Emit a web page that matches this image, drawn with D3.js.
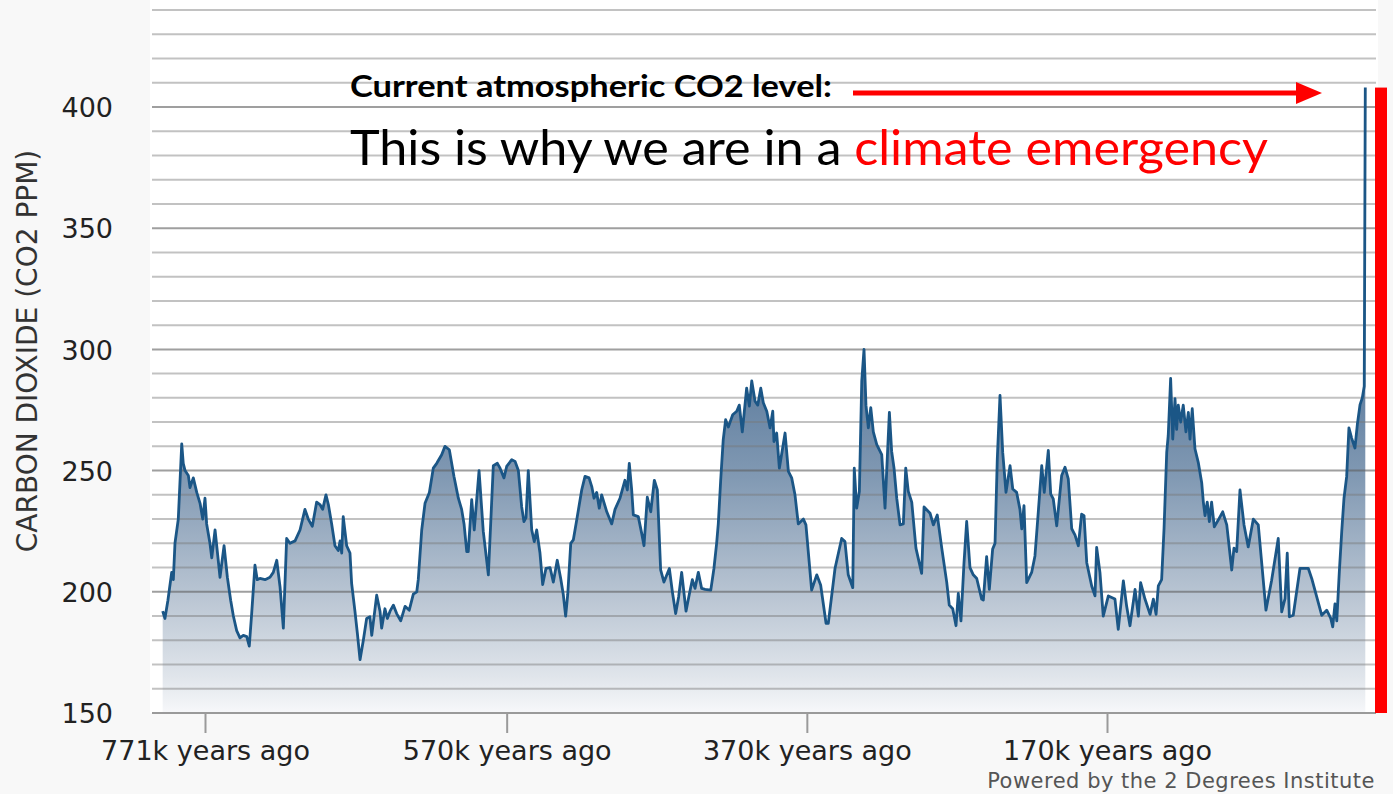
<!DOCTYPE html>
<html>
<head>
<meta charset="utf-8">
<script src="https://cdn.jsdelivr.net/npm/d3@7"></script>
<style>
  body { margin: 0; background: #f8f8f8; }
  svg { display: block; }
</style>
</head>
<body>
<div id="chart"></div>
<script>
// ice core CO2 record
// x: thousands of years ago, y: ppm
const kyrAgo = [
  799.2, 797.7, 795.7, 793.2, 792.1, 791, 788.8, 786.5, 785.5, 784.3, 782.1, 781, 778.8, 776.5, 774.3, 772.5,
  771, 769.9, 767.7, 766.5, 764.3, 761, 758.3, 756.1, 753.9, 752.1, 749.9, 747.7, 745.5, 743.2, 741.5, 739.9,
  737.7, 736.2, 734.4, 731, 727.7, 725.5, 723.2, 721, 718.8, 716.6, 714.4, 711, 707.7, 704.4, 702.2, 699.5,
  696.6, 694.4, 692.6, 690.4, 688.8, 686.6, 684.4, 682.2, 681, 679.9, 678.9, 676.6, 674.4, 673.3, 671.1, 669.5,
  667.7, 665.5, 663.3, 661.1, 659.9, 656.6, 654.4, 653.3, 651.1, 649.5, 647.7, 645.5, 643.3, 640.6, 637.7, 634.9,
  632.2, 629.9, 628.9, 626.6, 624.4, 621.5, 618.9, 616.6, 613.3, 611.1, 608.2, 605.1, 602.2, 600, 598.4, 596.6,
  595.6, 593.3, 591.6, 588.4, 585.6, 582.2, 578.9, 576.2, 574.4, 571.8, 570, 566.6, 564.4, 562.2, 560, 558.5,
  557.1, 555.6, 553.3, 551.6, 550, 547.8, 546, 543.8, 541.1, 538.9, 536.3, 534, 532.3, 530.7, 529.3, 527.3,
  525.6, 523.3, 520, 517.8, 515.1, 513.3, 511.8, 510, 508.3, 506.7, 503.3, 500, 497.8, 494.5, 491.2, 489.6,
  488.3, 486.7, 485.6, 482.3, 480, 478.5, 476.3, 474, 471.6, 469.6, 467.4, 465.2, 461.6, 459.6, 457.4, 455.4,
  453.4, 450.5, 448.3, 446.3, 444.5, 442.3, 440.1, 437.8, 434, 431.9, 430.1, 429, 427.4, 425.7, 424.1, 422.3,
  419.4, 416.7, 415, 413, 410.1, 408.3, 406.7, 404.5, 402.7, 400.7, 399, 396.7, 394.5, 392.7, 391.9, 390.1,
  388.3, 384.5, 382.3, 380.1, 377.9, 375.7, 372.3, 370.6, 366.8, 363.4, 360.8, 357.2, 355.7, 351.2, 346.8, 344.6,
  342.4, 339.4, 338.4, 336.8, 335, 333.4, 331.9, 330.6, 329, 327.4, 325.7, 323.4, 320.1, 317.9, 316.8, 315,
  313.5, 311.9, 310.1, 307.9, 305.7, 304.1, 302.4, 300.1, 297.3, 293.5, 291.9, 287.9, 285.7, 283.1, 280.1, 276.8,
  275.1, 272.8, 270.6, 269.1, 267.3, 265.3, 263.5, 261.3, 259.1, 256.8, 253.5, 252.4, 250.2, 248.4, 246.2, 244.6,
  243.1, 241.3, 239.5, 237.3, 234.6, 232.8, 230.2, 228, 226.8, 225.3, 223.5, 220.2, 218, 215.8, 213.5, 211.8,
  209.1, 207.5, 205.8, 203.5, 200.2, 198, 195.8, 193.5, 191.3, 189.1, 186.9, 185.3, 183.5, 180.2, 178, 176.9,
  174.7, 172.5, 169.1, 164.7, 162.5, 159.1, 156.9, 154.7, 151.3, 149.1, 147.6, 144.7, 141.3, 139.1, 137.3, 135.8,
  133.6, 132, 130.2, 129.2, 127.6, 126.2, 124.7, 123.6, 122.5, 120.9, 119.2, 117.4, 115.8, 114.7, 113.2, 111.4,
  109.2, 106.9, 105.8, 104.7, 103.2, 101.8, 100.3, 98.5, 95.8, 92.9, 90.2, 86.9, 85.4, 83.6, 81.4, 78.7,
  75.9, 72.5, 69.2, 64.1, 60.3, 55.9, 53.6, 51.4, 49.9, 48.5, 45.9, 41.4, 35.9, 33.6, 26.9, 23.6,
  20.9, 19.6, 18.1, 16.9, 15.2, 13.6, 12.1, 10.3, 8.8, 7, 4.8, 3.2, 1.4, -0.1, -1.4, -2.1
];
const co2ppm = [
  192, 189, 196.5, 208, 205, 220, 230, 261, 253, 250, 248, 243, 247, 241, 236.5, 230,
  238.6, 228, 220, 214, 225.5, 206, 219, 206, 196.5, 190, 184, 181, 182, 181.5, 177.6, 191,
  211, 205, 205.5, 205, 206, 208, 213, 202, 185, 222, 220, 221, 225.5, 234, 230, 227,
  237, 236, 234, 240, 236, 228, 219, 217, 221, 216, 231, 219, 216, 203.5, 192, 183,
  172, 180, 189, 189.7, 182, 198.6, 192, 185, 193, 189, 192, 194.5, 191, 188, 194, 192.4,
  199, 200, 205, 225.5, 236.5, 241, 251, 253, 256.5, 260, 258.6, 247.6, 238.6, 234, 228, 216.6,
  216.6, 238, 225.5, 250, 225, 207, 252, 253, 251, 247, 251.7, 254.5, 253.8, 250, 235, 229,
  230.6, 250, 225.5, 220.7, 225.5, 216, 203, 209.7, 210, 204, 213, 205.5, 199, 190, 199, 220,
  221.4, 229.7, 242, 247.6, 247, 243.4, 238.6, 241, 234.5, 240, 233, 228, 234, 238.6, 246, 242,
  253, 242, 231.7, 231, 224, 219, 239, 233, 246, 242, 209, 204, 209.6, 200, 191, 198,
  208, 192, 199, 205, 201.4, 208, 201.4, 201, 200.7, 209.6, 220, 228, 246, 262.8, 271, 268,
  273, 274.5, 277, 266, 284, 276.6, 287, 278.6, 277, 284, 278, 274.5, 267.6, 274.5, 262, 265.5,
  251, 265.5, 249.7, 247, 240, 228, 230, 227.6, 200.7, 207, 202.8, 187, 187, 209.7, 222, 220.7,
  207, 201.7, 251, 234.5, 241.4, 287, 300, 277, 267.6, 276, 266, 260.7, 256.6, 234.5, 249.7, 274,
  258, 251, 238.6, 227.6, 228, 251, 241.4, 237, 218, 207.6, 235, 232.4, 227.6, 231.7, 218, 204,
  194.5, 193, 186, 199.3, 188, 211.7, 229, 210, 207, 205.5, 197, 196.6, 214.5, 201, 217.6, 220,
  254.8, 281, 257.6, 241, 252, 242.4, 241, 234, 226, 235.5, 203.8, 208, 214.8, 232.8, 252, 241,
  258.3, 240.3, 238.3, 227.2, 248, 251.4, 246.6, 226, 223.4, 219, 232, 231.4, 212, 202.4, 198.3, 218.3,
  208, 190, 198.3, 197, 184.5, 204.5, 194, 186, 201, 190, 203.8, 197, 190.7, 197, 190.7, 202.4,
  205, 226, 257.6, 264.5, 288, 263, 279.7, 267, 277, 270, 277, 266, 274, 263, 275.5, 259,
  253.4, 245, 237, 231.4, 237, 229, 237, 226.8, 229.7, 233, 227.6, 209, 218, 216.6, 242, 227.6,
  218.5, 230, 227.6, 192.4, 204.8, 222, 191.7, 197.2, 215.9, 189.7, 190.3, 209.7, 209.7, 205.5, 190.3, 192.4,
  189, 185.5, 195, 188, 208.3, 224.8, 238.6, 247.6, 267.6, 263.4, 259.3, 269, 277.2, 280, 284.8, 408
];
const currentCO2 = 408;

const xTicks = [771, 570, 370, 170];
const yTicks = [150, 200, 250, 300, 350, 400];
const gridValues = d3.range(160, 441, 10);

const yTitle = 'CARBON DIOXIDE (CO2 PPM)';
const headline = 'Current atmospheric CO2 level:';
const subline = 'This is why we are in a ';
const sublineRed = 'climate emergency';
const credit = 'Powered by the 2 Degrees Institute';

const pageWidth = 1393;
const pageHeight = 794;
const plotLeft = 152;
const plotRight = 1376;
const axisFont = '"DejaVu Sans", sans-serif';
const titleFont = 'Lato, "Open Sans", sans-serif';

const data = kyrAgo.map((k, i) => ({ k: k, v: co2ppm[i] }));

const svg = d3.select('#chart')
    .append('svg')
    .attr('width', pageWidth)
    .attr('height', pageHeight);

const x = d3.scaleLinear()
    .domain([771, 170])
    .range([205, 1107]);

const y = d3.scaleLinear()
    .domain([150, 440])
    .range([713, 10]);

// white plot background
svg.append('rect')
    .attr('x', plotLeft - 2)
    .attr('y', 0)
    .attr('width', plotRight - plotLeft + 4)
    .attr('height', y(150))
    .attr('fill', '#ffffff');

const defs = svg.append('defs');
const grad = defs.append('linearGradient')
    .attr('id', 'fillGrad')
    .attr('gradientUnits', 'userSpaceOnUse')
    .attr('x1', 0).attr('x2', 0)
    .attr('y1', y(300)).attr('y2', y(150));
[
    [0, '#56779a'],
    [0.35, '#8199b3'],
    [0.7, '#bdc8d5'],
    [0.9, '#e0e5eb'],
    [1, '#f7f8fa']
].forEach(s => grad.append('stop').attr('offset', s[0]).attr('stop-color', s[1]));

// area under the curve
const area = d3.area()
    .x(d => x(d.k))
    .y0(y(150))
    .y1(d => y(d.v));

svg.append('path')
    .datum(data)
    .attr('d', area)
    .attr('fill', 'url(#fillGrad)');

// horizontal grid, drawn over the fill
svg.append('g')
    .selectAll('line')
    .data(gridValues)
    .enter().append('line')
    .attr('x1', plotLeft)
    .attr('x2', plotRight)
    .attr('y1', d => y(d))
    .attr('y2', d => y(d))
    .attr('stroke', d => d % 50 === 0 ? 'rgba(95,95,95,0.6)' : 'rgba(120,120,120,0.45)')
    .attr('stroke-width', 2);

// CO2 line
const line = d3.line()
    .x(d => x(d.k))
    .y(d => y(d.v));

svg.append('path')
    .datum(data)
    .attr('d', line)
    .attr('fill', 'none')
    .attr('stroke', '#1b5686')
    .attr('stroke-width', 2.8)
    .attr('stroke-linejoin', 'round');

// x axis
const xAxis = g => g
    .attr('transform', 'translate(0,' + y(150) + ')')
    .call(d3.axisBottom(x)
        .tickValues(xTicks)
        .tickSize(20)
        .tickSizeOuter(0)
        .tickPadding(8)
        .tickFormat(d => d + 'k years ago'));

const gx = svg.append('g').call(xAxis);
gx.select('.domain')
    .attr('d', 'M' + plotLeft + ',0H' + plotRight)
    .attr('stroke', '#9a9a9a')
    .attr('stroke-width', 2);
gx.selectAll('.tick line')
    .attr('stroke', '#9a9a9a')
    .attr('stroke-width', 2);
gx.selectAll('.tick text')
    .attr('font-family', axisFont)
    .attr('font-size', 27)
    .attr('fill', '#222');

// y axis labels
const gy = svg.append('g')
    .attr('transform', 'translate(113,0)')
    .call(d3.axisLeft(y).tickValues(yTicks).tickSize(0).tickPadding(0));
gy.select('.domain').remove();
gy.selectAll('.tick text')
    .attr('font-family', axisFont)
    .attr('font-size', 27)
    .attr('fill', '#222')
    .attr('dy', '0.36em');

svg.append('text')
    .attr('transform', 'translate(37,' + 351 + ') rotate(-90)')
    .attr('text-anchor', 'middle')
    .attr('font-family', axisFont)
    .attr('font-size', 28)
    .attr('fill', '#333')
    .text(yTitle);

// current level marker bar
svg.append('rect')
    .attr('x', 1375)
    .attr('y', y(currentCO2))
    .attr('width', 12)
    .attr('height', y(150) - y(currentCO2))
    .attr('fill', '#ff0000');

// annotation
svg.append('text')
    .attr('x', 350)
    .attr('y', 97)
    .attr('font-family', titleFont)
    .attr('font-weight', 'bold')
    .attr('font-size', 30)
    .attr('textLength', 482)
    .attr('lengthAdjust', 'spacingAndGlyphs')
    .attr('fill', '#000')
    .text(headline);

svg.append('line')
    .attr('x1', 853)
    .attr('x2', 1300)
    .attr('y1', 93)
    .attr('y2', 93)
    .attr('stroke', '#ff0000')
    .attr('stroke-width', 5);

svg.append('path')
    .attr('d', 'M1296,82L1322,93L1296,104Z')
    .attr('fill', '#ff0000');

const sub = svg.append('text')
    .attr('x', 350)
    .attr('y', 165)
    .attr('font-family', titleFont)
    .attr('font-size', 49)
    .attr('textLength', 918)
    .attr('lengthAdjust', 'spacingAndGlyphs')
    .attr('fill', '#000');
sub.append('tspan').text(subline);
sub.append('tspan').attr('fill', '#ff0000').text(sublineRed);

svg.append('text')
    .attr('x', 1375)
    .attr('y', 788)
    .attr('text-anchor', 'end')
    .attr('font-family', axisFont)
    .attr('font-size', 21)
    .attr('letter-spacing', 0.5)
    .attr('fill', '#555')
    .text(credit);
</script>
</body>
</html>
